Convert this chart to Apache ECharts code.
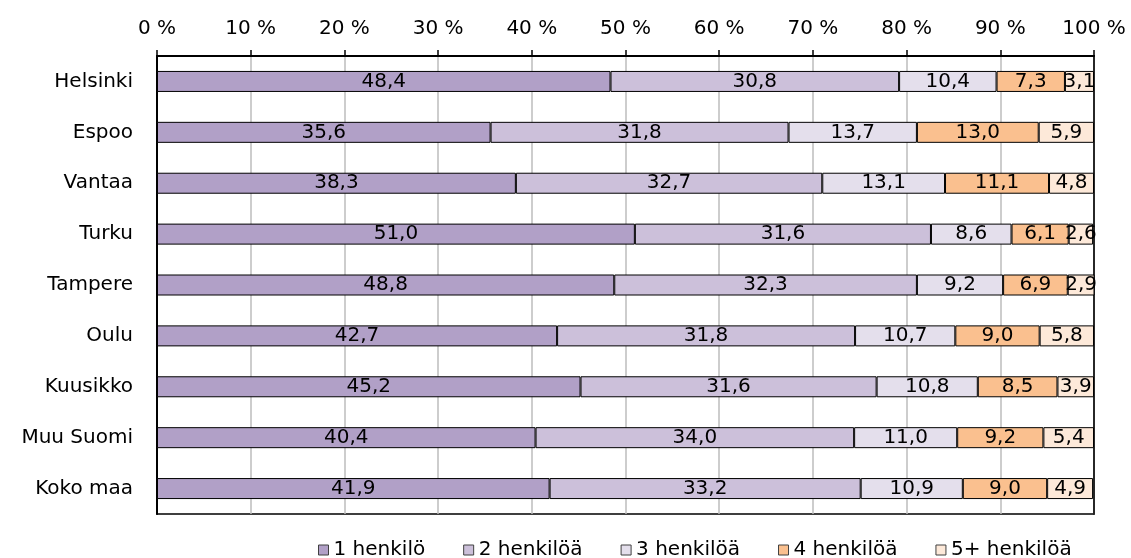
<!DOCTYPE html>
<html>
<head>
<meta charset="utf-8">
<script src="https://cdn.jsdelivr.net/npm/echarts@6/dist/echarts.min.js"></script>
<style>
html,body{margin:0;padding:0;background:#fff;}
#chart{width:1131px;height:558px;}
</style>
</head>
<body>
<div id="chart"></div>
<script>
const categories = ["Helsinki","Espoo","Vantaa","Turku","Tampere","Oulu","Kuusikko","Muu Suomi","Koko maa"];
const seriesNames = ["1 henkilö","2 henkilöä","3 henkilöä","4 henkilöä","5+ henkilöä"];
const s1 = [48.4, 35.6, 38.3, 51.0, 48.8, 42.7, 45.2, 40.4, 41.9];
const s2 = [30.8, 31.8, 32.7, 31.6, 32.3, 31.8, 31.6, 34.0, 33.2];
const s3 = [10.4, 13.7, 13.1, 8.6, 9.2, 10.7, 10.8, 11.0, 10.9];
const s4 = [7.3, 13.0, 11.1, 6.1, 6.9, 9.0, 8.5, 9.2, 9.0];
const s5 = [3.1, 5.9, 4.8, 2.6, 2.9, 5.8, 3.9, 5.4, 4.9];
const xTicks = [0,10,20,30,40,50,60,70,80,90,100];

const colors = ["#b1a0c7","#ccc0da","#e4dfec","#fac08f","#fde9d9"];
const font = "DejaVu Sans";
const values = [s1,s2,s3,s4,s5];

const chart = echarts.init(document.getElementById('chart'), null, {renderer:'canvas'});
chart.setOption({
  animation:false,
  backgroundColor:'#fff',
  grid:{left:157, right:37, top:56, bottom:44, show:true, borderColor:'#000', borderWidth:1.5, backgroundColor:'transparent'},
  legend:{
    data: seriesNames,
    left:313, top:535,
    itemWidth:10, itemHeight:10, itemGap:38,
    icon:'rect',
    textStyle:{fontFamily:font, fontSize:20, color:'#000'},
    itemStyle:{borderColor:'#404040', borderWidth:1}
  },
  xAxis:{
    type:'value', position:'top', min:xTicks[0], max:xTicks[xTicks.length-1], interval:10,
    axisLine:{show:true, lineStyle:{color:'#000', width:2}},
    axisTick:{show:true, length:6, inside:false, lineStyle:{color:'#000', width:1.5}},
    axisLabel:{formatter: v => v + ' %', fontFamily:font, fontSize:20, color:'#000', margin:17},
    splitLine:{show:true, lineStyle:{color:'#bcbcbc', width:1.5}}
  },
  yAxis:[{
    type:'category', data:categories, inverse:true,
    axisLine:{show:true, lineStyle:{color:'#000', width:2}},
    axisTick:{show:false},
    axisLabel:{fontFamily:font, fontSize:20, color:'#000', margin:24}
  },{
    type:'category', data:categories, inverse:true, position:'right',
    axisLine:{show:true, lineStyle:{color:'#000', width:1.5}},
    axisTick:{show:false}, axisLabel:{show:false}, splitLine:{show:false}
  }],
  series: values.map((d,i)=>({
    name: seriesNames[i],
    type:'bar', stack:'total', data:d, barWidth:21,
    itemStyle:{color:colors[i], borderColor:'#000', borderWidth:1},
    label:{show:true, position:'inside', formatter: p => p.value.toFixed(1).replace('.',','),
      fontFamily:font, fontSize:20, color:'#000', textBorderWidth:0}
  }))
});
</script>
</body>
</html>
